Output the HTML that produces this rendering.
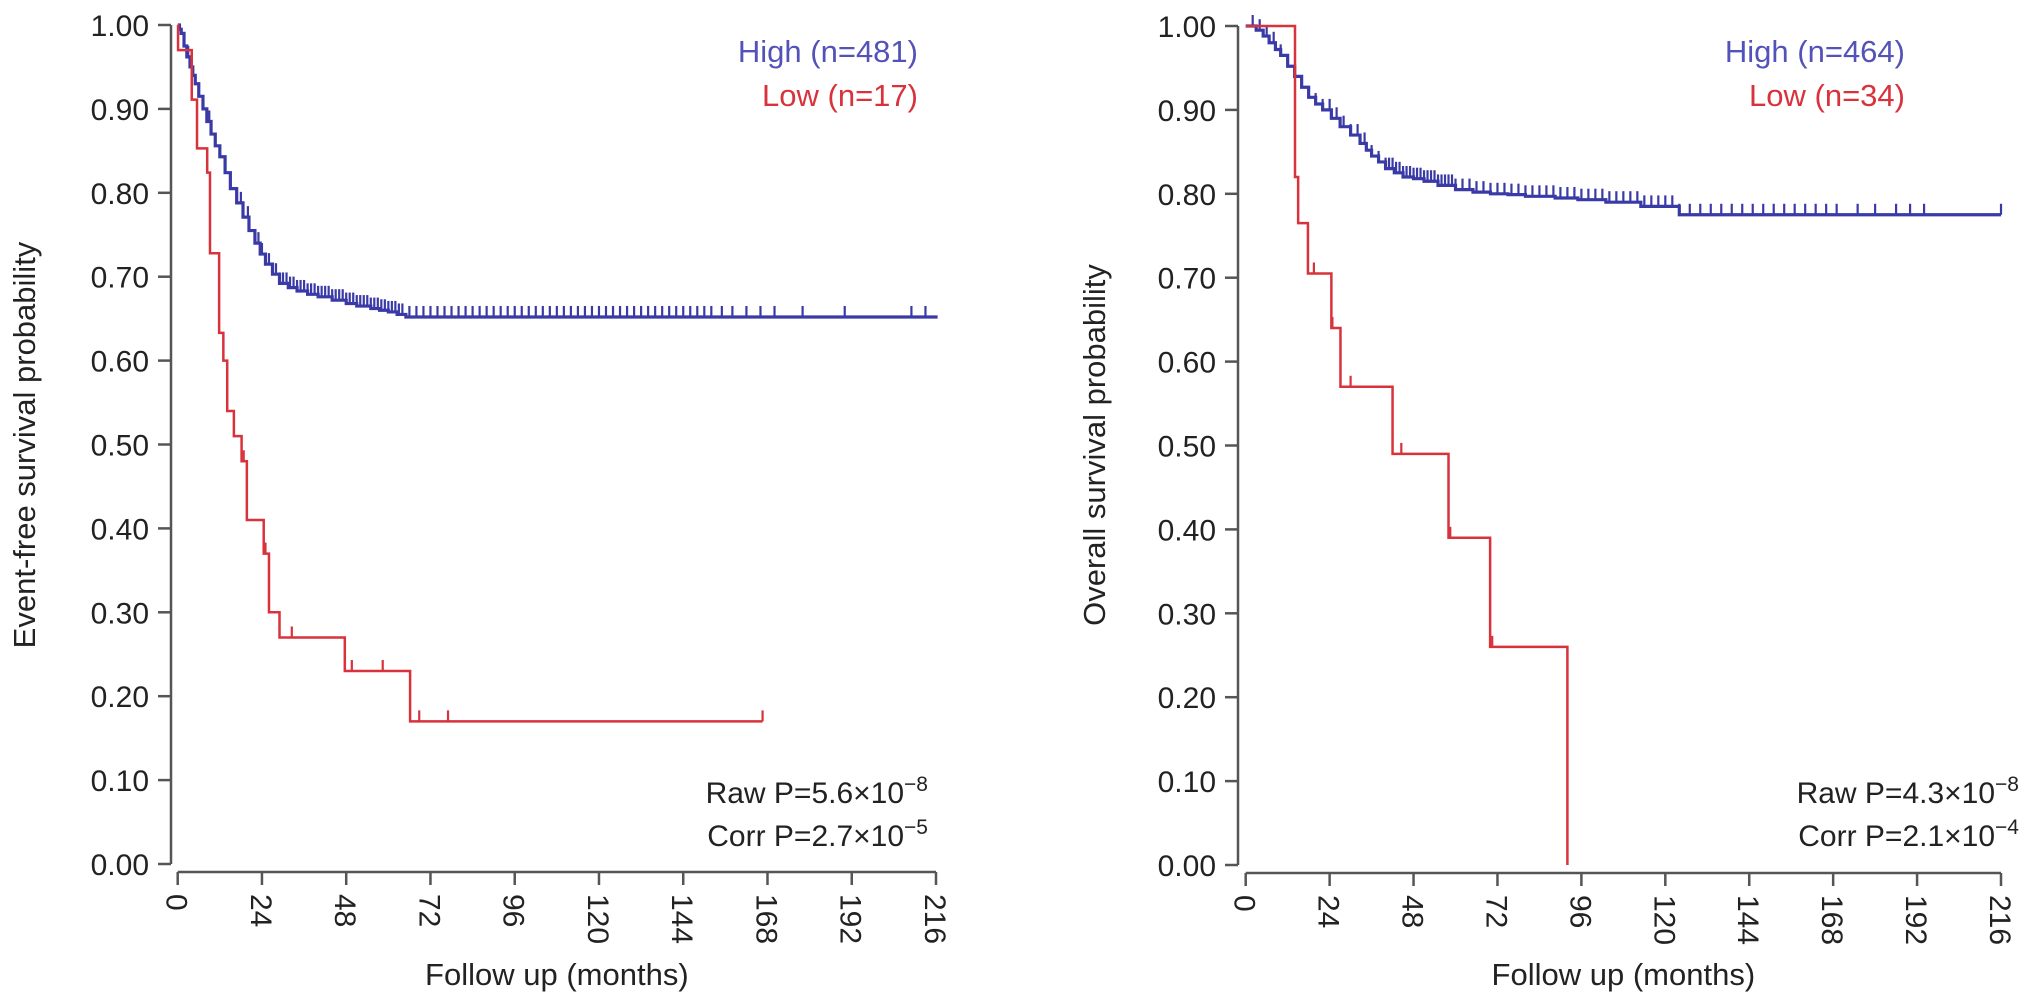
<!DOCTYPE html>
<html><head><meta charset="utf-8"><style>
html,body{margin:0;padding:0;background:#fff;}
svg{display:block;font-family:"Liberation Sans",Arial,sans-serif;}
</style></head><body>
<svg id="chart" width="2032" height="1002" viewBox="0 0 2032 1002"></svg>
<script>
// ---------- DATA ----------
const xTicks = [0,24,48,72,96,120,144,168,192,216];
const yTicks = [0,0.1,0.2,0.3,0.4,0.5,0.6,0.7,0.8,0.9,1.0];
// Left panel (event-free)
const efsHighTimes = [0,0.5,1,1.8,2.6,3.5,4.3,5,6,7.2,8.3,9.5,10.7,12,13.5,15,16.8,18.6,20.3,22,23.5,25,27,29,31.5,34,37,40,44,48,51,55,57.5,60,62.5,65,216];
const efsHighProbs = [1,0.995,0.99,0.975,0.962,0.95,0.94,0.93,0.915,0.90,0.885,0.87,0.856,0.843,0.824,0.805,0.788,0.771,0.755,0.74,0.727,0.715,0.703,0.692,0.687,0.683,0.679,0.676,0.672,0.668,0.665,0.662,0.66,0.658,0.655,0.652,0.65];
const efsHighCensor = [3,6,9,12,15,18,20,22,23,24,25,26,27,28,29,30,31,32,33,34,35,36,37,38,39,40,41,42,43,44,45,46,47,48,49,50,51,52,53,54,55,56,57,58,59,60,61,62,63,64,66,68,70,72,74,76,78,80,82,84,86,88,90,92,94,96,98,100,102,104,106,108,110,112,114,116,118,120,122,124,126,128,130,132,134,136,138,140,142,144,146,148,150,152,155,158,162,166,170,178,190,209,213];
const efsLowTimes = [0,0.1,4,5.5,8.4,9.2,11.8,13,14.1,16,18.2,19.7,24.5,26,29,47.6,66.2,166.6];
const efsLowProbs = [1,0.97,0.911,0.853,0.824,0.728,0.633,0.60,0.54,0.51,0.48,0.41,0.37,0.30,0.27,0.23,0.17,0.17];
const efsLowCensor = [18.8,25,32.5,49.6,58.4,68.8,77,166.6];
// Right panel (overall)
const osHighTimes = [0,3,5,6.7,8.5,10,12,14,16,18,20,22,24.5,27,30,32.7,34.5,36,38,40,42.5,45,48,51,55,60,65,70,75,80,88.5,95,103,113,124,216];
const osHighProbs = [1,0.995,0.988,0.98,0.972,0.965,0.952,0.94,0.927,0.915,0.907,0.90,0.89,0.88,0.87,0.86,0.852,0.845,0.838,0.83,0.825,0.82,0.818,0.815,0.81,0.805,0.802,0.80,0.799,0.797,0.795,0.793,0.79,0.785,0.775,0.775];
const osHighCensor = [2,4,6,8,10,12,14,16,18,20,22,24,26,28,30,32,34,36,38,40,41,42,43,44,45,46,47,48,49,50,51,52,53,54,55,56,57,58,59,60,62,64,66,68,70,72,74,76,78,80,82,84,86,88,90,92,94,96,98,100,102,104,106,108,110,112,114,116,118,120,122,124,127,130,133,136,139,142,145,148,151,154,157,160,163,166,169,175,180,186,190,194,216];
const osLowTimes = [0,14.1,15,17.8,24.5,27.1,42,58,69.9,92];
const osLowProbs = [1,0.82,0.765,0.705,0.64,0.57,0.49,0.39,0.26,0];
const osLowCensor = [19.5,24.8,30,44.5,58.5,70.5];

const BLUE="#3a3aa6", RED="#d8323c", GRAY="#555";
const svg=document.getElementById('chart');
const NS="http://www.w3.org/2000/svg";
function mk(tag,attrs,parent){const e=document.createElementNS(NS,tag);for(const k in attrs)e.setAttribute(k,attrs[k]);(parent||svg).appendChild(e);return e;}

function stepAt(times,probs,t){let p=probs[0];for(let i=0;i<times.length;i++){if(times[i]<=t)p=probs[i];}return p;}

function panel(cfg){
  const g=mk('g',{});
  
  
  const X=m=>cfg.x0+(m/216)*(cfg.x1-cfg.x0);
  const Y=p=>cfg.y0-p*(cfg.y0-cfg.y1);
  const ya=mk('line',{x1:cfg.ax,y1:Y(1),x2:cfg.ax,y2:Y(0),stroke:GRAY,'stroke-width':2.5},g);
  
  yTicks.forEach(v=>{
    const t=mk('line',{x1:cfg.ax-13,y1:Y(v),x2:cfg.ax,y2:Y(v),stroke:GRAY,'stroke-width':2.5},g);
    
    const l=mk('text',{x:cfg.ax-22,y:Y(v)+11,'text-anchor':'end','font-size':30,fill:'#222'},g);
    l.textContent=v.toFixed(2);
    
  });
  const xa=mk('line',{x1:X(0),y1:cfg.axY,x2:X(216),y2:cfg.axY,stroke:GRAY,'stroke-width':2.5},g);
  
  xTicks.forEach(v=>{
    const t=mk('line',{x1:X(v),y1:cfg.axY,x2:X(v),y2:cfg.axY+13,stroke:GRAY,'stroke-width':2.5},g);
    
    const l=mk('text',{x:0,y:0,'font-size':30,fill:'#222',transform:`translate(${X(v)-11},${cfg.axY+22}) rotate(90)`},g);
    l.textContent=String(v);
    
  });
  const xt=mk('text',{x:(X(0)+X(216))/2,y:985,'text-anchor':'middle','font-size':31,fill:'#222'},g);
  xt.textContent='Follow up (months)';
  
  const yt=mk('text',{x:0,y:0,'text-anchor':'middle','font-size':31,fill:'#222',transform:`translate(${cfg.ytx},445) rotate(-90)`},g);
  yt.textContent=cfg.ytitle;
  
  function curve(times,probs,censor,color,nm,w){
    let d=`M${X(times[0])},${Y(probs[0])}`;
    for(let i=1;i<times.length;i++){d+=` H${X(times[i])} V${Y(probs[i])}`;}
    const p=mk('path',{d:d,fill:'none',stroke:color,'stroke-width':w},g);
    
    censor.forEach(c=>{
      const pv=stepAt(times,probs,c);
      const m=mk('line',{x1:X(c),y1:Y(pv),x2:X(c),y2:Y(pv)-11,stroke:color,'stroke-width':2.2},g);
      
    });
  }
  curve(cfg.hiT,cfg.hiP,cfg.hiC,BLUE,'high',3.2);
  curve(cfg.loT,cfg.loP,cfg.loC,RED,'low',2.5);
  const lh=mk('text',{x:cfg.legX,y:62,'text-anchor':'end','font-size':31,fill:'#5252b8'},g);
  lh.textContent=cfg.hiLabel;
  const ll=mk('text',{x:cfg.legX,y:106,'text-anchor':'end','font-size':31,fill:RED},g);
  ll.textContent=cfg.loLabel;
  const r=mk('text',{x:cfg.pX,y:803,'text-anchor':'end','font-size':30,fill:'#222'},g);
  r.innerHTML=cfg.raw;
  const c=mk('text',{x:cfg.pX,y:846,'text-anchor':'end','font-size':30,fill:'#222'},g);
  c.innerHTML=cfg.corr;
}

panel({name:'event-free-panel',x0:177.7,x1:936,y0:864,y1:25,ax:171,axY:872,ytx:35,
  ytitle:'Event-free survival probability',
  hiT:efsHighTimes,hiP:efsHighProbs,hiC:efsHighCensor,loT:efsLowTimes,loP:efsLowProbs,loC:efsLowCensor,
  legX:918,hiLabel:'High (n=481)',loLabel:'Low (n=17)',pX:928,
  raw:'Raw P=5.6×10<tspan dy="-12" font-size="21">−8</tspan>',
  corr:'Corr P=2.7×10<tspan dy="-12" font-size="21">−5</tspan>'});
panel({name:'overall-survival-panel',x0:1245.7,x1:2001,y0:865,y1:26,ax:1238,axY:873,ytx:1105,
  ytitle:'Overall survival probability',
  hiT:osHighTimes,hiP:osHighProbs,hiC:osHighCensor,loT:osLowTimes,loP:osLowProbs,loC:osLowCensor,
  legX:1905,hiLabel:'High (n=464)',loLabel:'Low (n=34)',pX:2019,
  raw:'Raw P=4.3×10<tspan dy="-12" font-size="21">−8</tspan>',
  corr:'Corr P=2.1×10<tspan dy="-12" font-size="21">−4</tspan>'});
</script>
</body></html>
